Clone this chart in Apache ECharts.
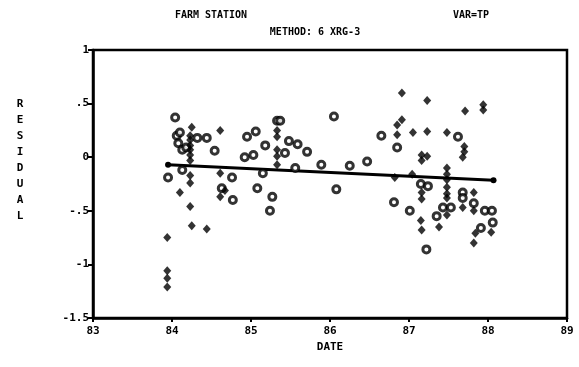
<!DOCTYPE html>
<html><head><meta charset="utf-8">
<script src="https://cdn.jsdelivr.net/npm/echarts@6/dist/echarts.min.js"></script>
<style>html,body{margin:0;padding:0;background:#fff}#c{width:579px;height:367px}</style>
</head><body><div id="c"></div>
<script>
var xTicks = [83,84,85,86,87,88,89];
var xTickLabels = ['83','84','85','86','87','88','89'];
var yTicks = [-1.5,-1,-0.5,0,0.5,1];
var yTickLabels = ['-1.5','-1','-.5','0','.5','1'];

var circlePts = [
 [84.04,0.37],[84.06,0.20],[84.08,0.13],[84.13,0.07],[84.10,0.23],[84.18,0.09],
 [84.32,0.18],[84.44,0.18],[84.54,0.06],[84.95,0.19],[85.06,0.24],[84.92,0.00],[85.03,0.02],
 [83.95,-0.19],[84.13,-0.12],[84.76,-0.19],[85.08,-0.29],[84.63,-0.29],[84.77,-0.40],
 [85.33,0.34],[85.37,0.34],[85.18,0.11],[85.48,0.15],[85.59,0.12],[85.71,0.05],[85.43,0.04],
 [86.05,0.38],[85.89,-0.07],[86.25,-0.08],[86.47,-0.04],[86.65,0.20],[86.85,0.09],
 [85.15,-0.15],[85.56,-0.10],[85.27,-0.37],[85.24,-0.50],[86.08,-0.30],[86.81,-0.42],
 [87.01,-0.50],[87.62,0.19],[87.15,-0.25],[87.24,-0.27],[87.22,-0.86],[87.43,-0.47],
 [87.53,-0.47],[87.35,-0.55],[87.68,-0.33],[87.68,-0.38],[87.82,-0.43],[87.96,-0.50],
 [88.05,-0.50],[88.06,-0.61],[87.91,-0.66]
];
var diamondPts = [
 [84.25,0.28],[84.61,0.25],[84.23,0.20],[84.23,0.16],[84.23,0.11],[84.23,0.07],[84.23,0.02],[84.23,-0.03],
 [84.23,-0.17],[84.23,-0.24],[84.61,-0.15],[84.67,-0.31],[84.61,-0.37],[84.10,-0.33],[84.23,-0.46],
 [84.25,-0.64],[84.44,-0.67],[83.94,-0.75],[83.94,-1.06],[83.94,-1.13],[83.94,-1.21],
 [85.33,0.25],[85.33,0.19],[85.33,0.07],[85.33,0.01],[85.33,-0.07],
 [86.85,0.30],[86.85,0.21],[86.91,0.60],[86.91,0.35],[87.23,0.53],[87.05,0.23],[87.23,0.24],
 [87.48,0.23],[87.71,0.43],[87.94,0.49],[87.94,0.44],[87.70,0.10],[87.70,0.05],[87.68,0.00],
 [87.16,0.02],[87.16,-0.03],[87.23,0.01],[86.82,-0.19],[87.04,-0.16],[87.48,-0.10],[87.48,-0.16],
 [87.48,-0.21],[87.48,-0.28],[87.48,-0.34],[87.48,-0.38],[87.16,-0.33],[87.16,-0.39],[87.15,-0.59],
 [87.16,-0.68],[87.48,-0.54],[87.38,-0.65],[87.68,-0.47],[87.82,-0.33],[87.82,-0.50],
 [88.04,-0.70],[87.84,-0.71],[87.82,-0.80]
];
var fitLine = [[83.95,-0.07],[88.07,-0.215]];

var F = '"DejaVu Sans Mono", monospace';
var TF = 'bold 10px ' + F;
var chart = echarts.init(document.getElementById('c'), null, {renderer:'canvas'});
chart.setOption({
  animation:false,
  backgroundColor:'#fff',
  grid:{left:93,right:12,top:50,bottom:49,show:true,borderColor:'#000',borderWidth:2.5,backgroundColor:'transparent'},
  graphic:[
    {type:'text',x:211,y:10,style:{text:'FARM STATION',font:TF,fill:'#000',align:'center'}},
    {type:'text',x:471,y:10,style:{text:'VAR=TP',font:TF,fill:'#000',align:'center'}},
    {type:'text',x:315,y:27,style:{text:'METHOD: 6 XRG-3',font:TF,fill:'#000',align:'center'}},
    {type:'text',x:20,y:96,style:{text:'R\nE\nS\nI\nD\nU\nA\nL',font:'bold 11px '+F,fill:'#000',lineHeight:16,align:'center'}}
  ],
  xAxis:{type:'value',min:83,max:89,interval:1,
    name:'DATE',nameLocation:'middle',nameGap:22,
    nameTextStyle:{fontFamily:F,fontSize:11,fontWeight:'bold',color:'#000'},
    axisLine:{show:true,onZero:false,lineStyle:{color:'#000',width:2.5}},
    axisTick:{show:true,length:4,lineStyle:{color:'#000',width:2}},
    axisLabel:{margin:8,fontFamily:F,fontSize:11,fontWeight:'bold',color:'#000',
      formatter:function(v){var i=xTicks.indexOf(Math.round(v));return i>=0?xTickLabels[i]:'';}},
    splitLine:{show:false}},
  yAxis:{type:'value',min:-1.5,max:1,interval:0.5,
    axisLine:{show:true,onZero:false,lineStyle:{color:'#000',width:2.5}},
    axisTick:{show:true,length:5,lineStyle:{color:'#000',width:2}},
    axisLabel:{margin:4,fontFamily:F,fontSize:11,fontWeight:'bold',color:'#000',
      formatter:function(v){for(var i=0;i<yTicks.length;i++){if(Math.abs(yTicks[i]-v)<1e-6)return yTickLabels[i];}return '';}},
    splitLine:{show:false}},
  series:[
    {type:'line',data:fitLine,symbol:'circle',symbolSize:6,showSymbol:true,
      itemStyle:{color:'#000'},lineStyle:{color:'#000',width:3},z:3},
    {type:'scatter',data:circlePts,symbol:'circle',symbolSize:7,
      itemStyle:{color:'#fff',borderColor:'#000',borderWidth:3},z:4},
    {type:'scatter',data:diamondPts,symbol:'diamond',symbolSize:[8,9],
      itemStyle:{color:'#000'},z:5}
  ]
});
</script></body></html>
